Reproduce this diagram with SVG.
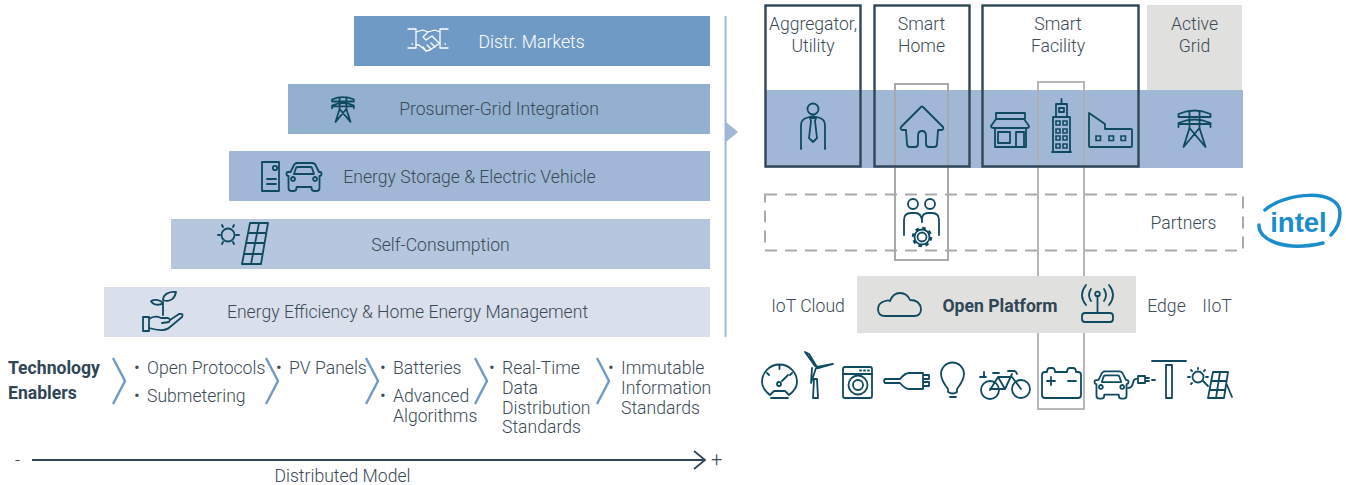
<svg xmlns="http://www.w3.org/2000/svg" width="1346" height="485" viewBox="0 0 1346 485">
<defs>
<style>
text{font-family:Roboto,"Noto Sans","Liberation Sans",sans-serif;font-weight:300;fill:#3a4a56;font-size:17.6px}
.m{text-anchor:middle}
.b{font-weight:700;fill:#2f4656}
.ic{fill:none;stroke:#0f4a60;stroke-width:1.8;stroke-linecap:round;stroke-linejoin:round;vector-effect:non-scaling-stroke}
.wh{stroke:#fff;stroke-width:1.3}
.fr{fill:none;stroke:#2f4656;stroke-width:2.4}
.gf{fill:none;stroke:#a9a9ad;stroke-width:2}
.ch{fill:none;stroke:#6f9ac5;stroke-width:2.4}
.win{fill:none;stroke:#0f4a60;stroke-width:1.6}
</style>
<path id="tower" class="ic" d="M-16-11V-14Q0-21 16-14V-11M-16-11H16M-16-1V-5Q0-12 16-5V-1M-16-4H16M-5-17V0L-11 19 5 0M5-17V0L11 19-5 0"/>
<path id="car" class="ic" d="M296 163h16q3 0 4 3l3 6h1q1.500 0 1.500 2t-2 2v12q0 3-3 3h-2q-3 0-3-3v-1h-15v1q0 3-3 3h-2q-3 0-3-3v-12q-2 0-2-2t1.500-2h2.500l3-6q1-3 4-3ZM294 174l2-6q.5-1 2-1h12q1.500 0 2 1l2 6ZM298 187h12M293 177a2 2 0 1 0 .1 0M315 177a2 2 0 1 0 .1 0"/>
</defs>
<g id="markets"><rect x="354" y="16" width="356" height="50" fill="#6f9ac5"/>
<path class="ic wh" d="M408 29h8v19h-8M448 29h-8v19h8M416 32l7-2 5 2 7-2 5 2M416 45h3l7 6 4-1 7-5 3-2M428 32l-5 5 3 3 6-4 8 8M426 51l-3-4M431 49l-4-4M435 47l-4-4M412 44h.5M445 44h.5"/>
<text x="531.500" y="48" class="m" style="fill:#fff">Distr. Markets</text></g>
<g id="prosumer"><rect x="288" y="84" width="422" height="50" fill="#93b0d0"/><use href="#tower" transform="translate(343 109) scale(.68)"/>
<text x="499" y="115" class="m">Prosumer-Grid Integration</text></g>
<g id="storage"><rect x="229" y="151" width="481" height="50" fill="#a0b8d6"/>
<path class="ic" d="M262 162h17v29h-17ZM267 179h9M267 184h9"/><circle class="ic" cx="275" cy="168" r="2.200"/><use href="#car"/>
<text x="469.500" y="183" class="m">Energy Storage &amp; Electric Vehicle</text></g>
<g id="self"><rect x="171" y="219" width="539" height="50" fill="#b5c6de"/>
<circle class="ic" cx="228" cy="235" r="6.500"/><path class="ic" d="M218 235h2M236 235h3M222 225l1 2M234 225l-1 2M222 244l1-2M234 244l-1-2M250 223h18l-7 41h-19ZM248 233h18M246 243h18M244 254h18M259 223l-8 41"/>
<text x="440.500" y="251" class="m">Self-Consumption</text></g>
<g id="efficiency"><rect x="104" y="287" width="606" height="50" fill="#d9e0ec"/>
<path class="ic" d="M143 317h6v14h-6ZM149 319c4-3 8-3 12-1h7q3 1 1 4l-7 1M149 328c10 3 17 3 21-1l12-10q2-4-3-3l-9 6M163 315v-13M163 303c-2-3-8-4-12-2 2 4 8 5 12 2ZM163 300c0-6 7-9 13-8-1 6-6 11-13 8Z"/>
<text x="407.500" y="318" class="m">Energy Efficiency &amp; Home Energy Management</text></g>
<g id="enablers">
<text x="8" y="374" class="b">Technology</text><text x="8" y="399" class="b">Enablers</text>
<path class="ch" d="M113 358l12 23-12 23M266 358l12 23-12 23M366 358l12 23-12 23M475 358l12 23-12 23M597 358l12 23-12 23"/>
<text y="374"><tspan x="134">•</tspan><tspan x="147">Open Protocols</tspan></text><text y="402"><tspan x="134">•</tspan><tspan x="147">Submetering</tspan></text>
<text y="374"><tspan x="276">•</tspan><tspan x="289">PV Panels</tspan></text>
<text y="374"><tspan x="380">•</tspan><tspan x="393">Batteries</tspan></text><text y="402"><tspan x="380">•</tspan><tspan x="393">Advanced</tspan></text><text x="393" y="422">Algorithms</text>
<text y="374"><tspan x="489">•</tspan><tspan x="502">Real-Time</tspan></text><text x="502" y="394">Data</text><text x="502" y="414">Distribution</text><text x="502" y="433">Standards</text>
<text y="374"><tspan x="608">•</tspan><tspan x="621">Immutable</tspan></text><text x="621" y="394">Information</text><text x="621" y="414">Standards</text>
</g>
<g id="axis">
<text x="15" y="466">-</text><text x="711" y="466" style="font-size:20px">+</text>
<path d="M32 460H705M694 451l11 9-11 9" fill="none" stroke="#2f4656" stroke-width="1.800"/>
<text x="342.500" y="482" class="m">Distributed Model</text></g>
<g id="connectors">
<path d="M725.500 16V337" stroke="#a0b8d6" stroke-width="2" fill="none"/><path d="M726 122l12 10-12 10Z" fill="#a0b8d6"/>
</g>
<rect id="activegrid" x="1147" y="5" width="95" height="85" fill="#e0e0de"/>
<rect id="band" x="765" y="90" width="478" height="78" fill="#a0b8d6"/>
<g id="overlay"><rect class="gf" x="895" y="84" width="53" height="176"/><rect x="1038" y="82" width="46" height="327" fill="none" stroke="#b0b0b4" stroke-width="1.800"/></g>
<g id="aggregator"><rect class="fr" x="765.500" y="5.500" width="95" height="161"/>
<text x="813" y="30" class="m">Aggregator,</text><text x="813" y="52" class="m">Utility</text>
<circle class="ic" cx="813" cy="109" r="5.500"/><path class="ic" d="M801 149v-24q0-5 5-7l7-2 7 2q5 2 5 7v24M810 118h6l-1 3 2 17-4 4-4-4 2-17Z"/></g>
<g id="home"><rect class="fr" x="874.500" y="5.500" width="95" height="161"/>
<text x="921.500" y="30" class="m">Smart</text><text x="921.500" y="52" class="m">Home</text>
<path class="ic" d="M901 127l20-20q1-1 2 0l20 20q1 2-1 3h-4l-1 14q0 3-3 3h-5q-3 0-3-3v-8q0-5-4-5t-4 5v8q0 3-3 3h-5q-3 0-3-3l-1-14h-4q-2-1-1-3Z"/></g>
<g id="facility"><rect class="fr" x="982.500" y="5.500" width="156" height="161"/>
<text x="1058" y="30" class="m">Smart</text><text x="1058" y="52" class="m">Facility</text>
<path class="ic" d="M996 113h29v6h-29ZM996 119l-5 7q0 2 3 2h33q2 0 2-2l-5-7M995 128v19h31v-19M998 132h12v11h-12ZM1016 147v-15h8v15"/>
<path class="ic" d="M1061.500 99v5M1056 104h11v13h-11ZM1053 117h17v35h-17ZM1052 152h19M1059 108h5v4h-5Z"/>
<path class="win" d="M1056 121h4v4h-4ZM1063 121h4v4h-4ZM1056 129h4v4h-4ZM1063 129h4v4h-4ZM1056 136h4v4h-4ZM1063 136h4v4h-4ZM1056 144h4v4h-4ZM1063 144h4v4h-4Z"/>
<path class="ic" d="M1089 113l16 11v5h26q1 0 1 1v16q0 1-1 1h-41q-1 0-1-1Z"/><path class="win" d="M1096 136h4.500v4.500h-4.500ZM1109 136h4.500v4.500h-4.500ZM1121 136h4.500v4.500h-4.500Z"/></g>
<g id="active"><text x="1194.500" y="30" class="m">Active</text><text x="1194.500" y="52" class="m">Grid</text><use href="#tower" transform="translate(1194.500 128)"/></g>
<rect id="platformbg" x="857" y="276" width="279" height="57" fill="#e0e0de"/>
<g id="partners"><rect x="765" y="194.500" width="478" height="56" fill="none" stroke="#a9a9ad" stroke-width="2" stroke-dasharray="12 8"/>
<text x="1183.500" y="229" class="m">Partners</text>
<circle class="ic" cx="913" cy="204" r="5"/><circle class="ic" cx="930" cy="204" r="5"/>
<path class="ic" d="M904 235v-15q0-7 7-7h4q7 0 7 9M939 235v-15q0-7-7-7h-4q-7 0-6 9"/>
<circle class="ic" cx="922" cy="237" r="4.500"/><circle class="ic" cx="922" cy="237" r="7.500"/><circle cx="922" cy="237" r="9" fill="none" stroke="#0f4a60" stroke-width="2.500" stroke-dasharray="3.500 3.570"/></g>
<g id="intel"><path d="M1259 225C1258 240 1285 252 1323 243M1265 210C1285 192 1340 188 1340 213 1340 222 1337 229 1331 235" fill="none" stroke="#1b8ccc" stroke-width="3.500" stroke-linecap="round"/>
<text x="1298.500" y="232" class="m" style="fill:#1b8ccc;font-weight:700;font-size:27.500px;font-family:'Liberation Sans',sans-serif">intel</text></g>
<g id="platform"><text x="808" y="312" class="m">IoT Cloud</text><text x="1166.500" y="312" class="m">Edge</text><text x="1217" y="312" class="m">IIoT</text>
<path class="ic" d="M885 316q-7 0-7-7 0-6 7-8 4-1 5 0 3-8 10-8 7 0 10 7 10 0 11 9 0 7-7 7Z"/>
<text x="1000" y="312" class="m b">Open Platform</text>
<path class="ic" d="M1082 316q0-3 3-3h25q3 0 3 3v3q0 3-3 3h-25q-3 0-3-3ZM1097.500 313v-17M1091 289q-4 6 0 12M1104 289q4 6 0 12M1086 285q-8 10 0 20M1109 285q8 10 0 20"/>
<circle class="ic" cx="1097.500" cy="294" r="2.300"/></g>
<g id="iconrow">
<path class="ic" d="M770 395q-8-6-8-13a17.500 17.500 0 0 1 35 0q0 7-8 13l-4-4h-11ZM771 398h17M767 373l2 2M792 373l-2 2M779.500 366v3M782 381l6-6"/><circle class="ic" cx="779" cy="384" r="2"/>
<path class="ic" d="M814 379h3l1 19h-5ZM815 366l-10-14 4 2 8 13 16-3-14 4-3 0-5 15 1-15"/>
<rect class="ic" x="843" y="367" width="29" height="31" rx="2"/><path class="ic" d="M843 374h29M860 370.500h1M864 370.500h1M868 370.500h1"/><circle class="ic" cx="858" cy="385" r="9.500"/><circle class="ic" cx="858" cy="385" r="5"/>
<path class="ic" d="M885 379h15q5-6 9-6h14v16h-14q-4 0-9-6h-15q-2-2 0-4ZM923 375h6v4h-6ZM923 382h6v4h-6Z"/>
<path class="ic" d="M948 392v-3q-7-9-7-15a11.500 11.500 0 0 1 23 0q0 6-7 15v3q-4 3-9 0ZM950 397h6"/>
<circle class="ic" cx="990" cy="390" r="9"/><circle class="ic" cx="1021" cy="389" r="9"/><path class="ic" d="M990 390l8-13h14l9 12M998 377l7 12h-15M1005 389l7-15M1008 371h6q2 0 3 3M980 377h6M984 372v5M993 373h6"/>
<path class="ic" d="M1042 375q0-3 3-3h2q0-4 3-4h2q3 0 3 4h12q0-4 3-4h3q3 0 3 4h2q3 0 3 3v20q0 3-3 3h-33q-3 0-3-3ZM1047 381h8M1051 377v8M1068 381h8"/>
<use href="#car" transform="translate(1111.500 385) scale(.97) translate(-304 -177)"/><path class="ic" d="M1128 388q4 0 5-5t4-4h1M1138 376h7v7h-7ZM1145 378h4M1145 381h4M1152 380h3"/>
<path class="ic" d="M1152 361h12M1171 361h15M1166 365h6v33h-6ZM1164 361h7"/>
<circle class="ic" cx="1198" cy="377" r="5.500"/><path class="ic" d="M1188 377h2M1206 377h2M1198 368v1M1191 370l1 1M1205 370l-1 1M1191 384l1-1M1203 381l5 5M1213 372h15l-4 26h-16ZM1211 381h15M1210 390h15M1220 372l-4 26M1227 385l5 12"/>
</g>
</svg>
